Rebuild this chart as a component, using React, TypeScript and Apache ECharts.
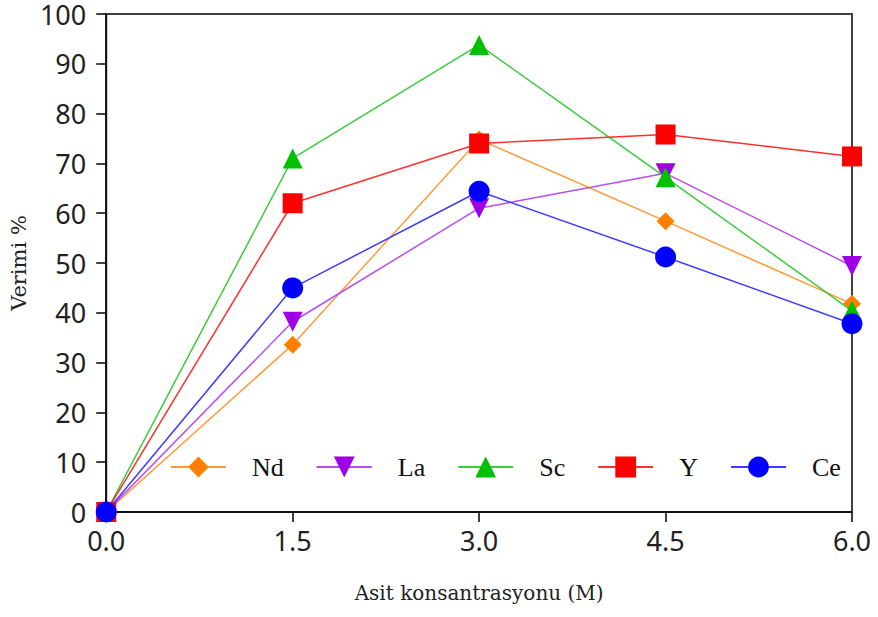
import React, { useEffect, useRef } from "react";
import * as echarts from "echarts";

const xValues = [0, 1.5, 3.0, 4.5, 6.0];
const seriesNames = ["Nd", "La", "Sc", "Y", "Ce"];
const ndValues = [0, 33.6, 74.8, 58.4, 41.8];
const laValues = [0, 38.2, 61.0, 68.0, 49.4];
const scValues = [0, 71.0, 93.8, 67.2, 40.4];
const yValues = [0, 62.0, 74.0, 75.8, 71.4];
const ceValues = [0, 45.0, 64.4, 51.2, 37.8];
const colors = ["#FF8000", "#A000E6", "#00C000", "#FF0000", "#0000FF"];
const lineColors = ["#FF9A3C", "#B84CF0", "#3CCB3C", "#FF3030", "#3C3CFF"];
const symbols = ["diamond", "triangle", "triangle", "rect", "circle"];
const symbolRotates = [0, 180, 0, 0, 0];
const symbolSizes = [18, 20, 20, 20, 21];

export default function App() {
  const ref = useRef<HTMLDivElement>(null);
  useEffect(() => {
    document.body.style.margin = "0";
    const chart = echarts.init(ref.current!, null, { renderer: "svg" });
    const allValues = [ndValues, laValues, scValues, yValues, ceValues];
    chart.setOption({
      animation: false,
      backgroundColor: "#ffffff",
      grid: {
        left: 105,
        right: 26,
        top: 14,
        bottom: 105,
        show: true,
        borderColor: "#404040",
        borderWidth: 2,
        backgroundColor: "transparent",
      },
      legend: {
        data: seriesNames,
        left: 170,
        top: 454,
        padding: 0,
        itemWidth: 55,
        itemHeight: 26,
        itemGap: 32,
        textStyle: {
          fontFamily: "Liberation Serif",
          fontSize: 26,
          color: "#111",
          padding: [0, 0, 0, 21],
        },
      },
      xAxis: {
        type: "value",
        min: 0,
        max: 6,
        interval: 1.5,
        name: "Asit konsantrasyonu (M)",
        nameLocation: "middle",
        nameGap: 71,
        nameTextStyle: { fontFamily: "DejaVu Serif", fontSize: 20, color: "#222" },
        axisLine: { onZero: false, lineStyle: { color: "#000", width: 1.5 } },
        axisTick: { show: true, length: 10, lineStyle: { color: "#000", width: 1.5 } },
        axisLabel: {
          margin: 18,
          fontFamily: "Noto Sans",
          fontSize: 27,
          lineHeight: 20,
          color: "#222",
          formatter: (v: number) => v.toFixed(1),
        },
        splitLine: { show: false },
      },
      yAxis: {
        type: "value",
        min: 0,
        max: 100,
        interval: 10,
        name: "Verimi %",
        nameLocation: "middle",
        nameGap: 72,
        nameTextStyle: { fontFamily: "DejaVu Serif", fontSize: 21, color: "#222" },
        axisLine: { show: true, lineStyle: { color: "#000", width: 1.5 } },
        axisTick: { show: true, length: 10, lineStyle: { color: "#000", width: 1.5 } },
        axisLabel: { margin: 20, fontFamily: "Noto Sans", fontSize: 27, lineHeight: 20, color: "#222" },
        splitLine: { show: false },
      },
      series: seriesNames.map((name, i) => ({
        name,
        type: "line",
        data: xValues.map((x, j) => [x, allValues[i][j]]),
        symbol: symbols[i],
        symbolRotate: symbolRotates[i],
        symbolSize: symbolSizes[i],
        showAllSymbol: true,
        clip: false,
        z: 2 + i,
        itemStyle: { color: colors[i] },
        lineStyle: { color: lineColors[i], width: 1.5 },
      })),
    });
    return () => chart.dispose();
  }, []);
  return <div ref={ref} style={{ width: 878, height: 617 }} />;
}
